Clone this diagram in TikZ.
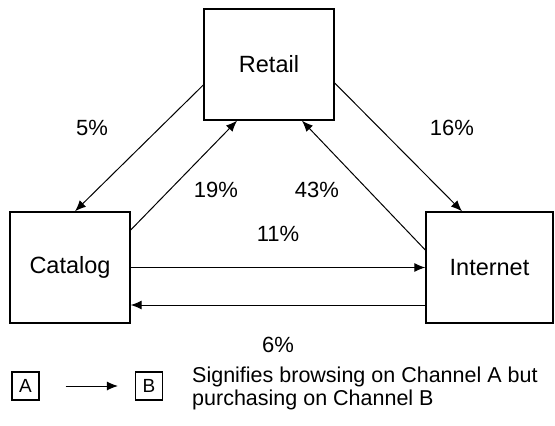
\documentclass[tikz,border=0pt]{standalone}
\usepackage{fontspec}
\setmainfont{Liberation Sans}
\usetikzlibrary{arrows.meta}

\begin{document}
\begin{tikzpicture}[x=1pt,y=-1pt,
    chan/.style={draw,line width=1.4pt,inner sep=0pt,font=\fontsize{23.5}{26}\selectfont},
    key/.style={draw,line width=1.1pt,minimum width=27pt,minimum height=28pt,inner sep=0pt,font=\fontsize{19}{22}\selectfont},
    flow/.style={-{Latex[length=11pt,width=9pt]},line width=1pt},
    pct/.style={font=\fontsize{22}{26}\selectfont}]
   \useasboundingbox (0,0) rectangle (555,426);
   % channels
   \node[chan,minimum width=130pt,minimum height=111pt] (retail) at (269,64.5) {Retail};
   \node[chan,minimum width=120pt,minimum height=111pt] (catalog) at (70,267.5) {Catalog};
   \node[chan,minimum width=127pt,minimum height=111pt] (internet) at (489.5,267.5) {Internet};
   % flows
   \draw[flow] ([yshift=-20.5pt]retail.west) -- ([xshift=5pt]catalog.north);
   \draw[flow] ([yshift=37.5pt]catalog.east) -- ([xshift=-32pt]retail.south);
   \draw[flow] ([yshift=-18.5pt]retail.east) -- ([xshift=-27.5pt]internet.north);
   \draw[flow] ([yshift=17.5pt]internet.west) -- ([xshift=33pt]retail.south);
   \draw[flow] (catalog.east) -- (internet.west);
   \draw[flow] ([yshift=-37.5pt]internet.west) -- ([yshift=-37.5pt]catalog.east);
   \node[pct] (p5) at (92,128) {5\%};
   \node[pct] (p16) at (452,128) {16\%};
   \node[pct] (p19) at (216,190) {19\%};
   \node[pct] (p43) at (317,190) {43\%};
   \node[pct] (p11) at (278,234) {11\%};
   \node[pct] (p6) at (278,345) {6\%};
   % legend
   \node[key] (keya) at (25.5,386) {A};
   \node[key] (keyb) at (149,386) {B};
   \draw[flow,shorten <=26pt,shorten >=17pt] (keya.east) -- (keyb.west);
   \node[anchor=west,align=left,inner sep=0pt,font=\fontsize{21.5}{23}\selectfont] (keytext) at (192,388)
      {Signifies browsing on Channel A but\\purchasing on Channel B};
\end{tikzpicture}
\end{document}
